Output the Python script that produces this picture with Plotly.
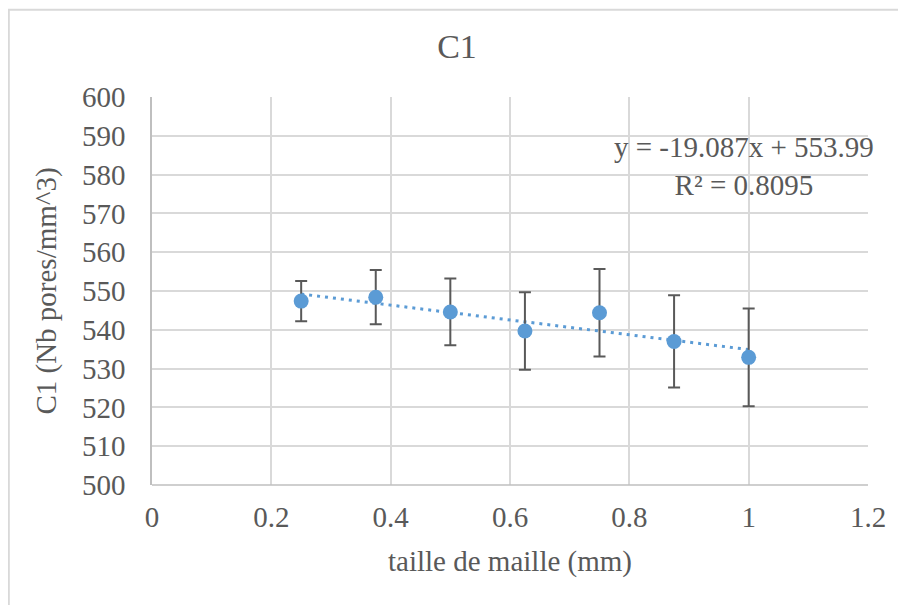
import plotly.graph_objects as go

# Data
mesh_size = [0.25, 0.375, 0.5, 0.625, 0.75, 0.875, 1.0]
c1_values = [547.4, 548.4, 544.6, 539.7, 544.4, 537.0, 532.9]
c1_error = [5.2, 7.0, 8.6, 10.0, 11.3, 11.9, 12.6]

trend_slope = -19.087
trend_intercept = 553.99
trend_x = [0.25, 1.0]
trend_y = [trend_slope * x + trend_intercept for x in trend_x]

x_ticks = [0, 0.2, 0.4, 0.6, 0.8, 1.0, 1.2]
x_tick_labels = ["0", "0.2", "0.4", "0.6", "0.8", "1", "1.2"]
y_ticks = list(range(500, 601, 10))

FONT = "Liberation Serif"
TXT = "#595959"
BLUE = "#5b9bd5"

fig = go.Figure()
fig.add_trace(go.Scatter(
    x=trend_x, y=trend_y, mode="lines",
    line=dict(color=BLUE, width=3, dash="3px,5px"),
    showlegend=False, hoverinfo="skip",
))
fig.add_trace(go.Scatter(
    x=mesh_size, y=c1_values, mode="markers",
    marker=dict(color=BLUE, size=15),
    error_y=dict(type="data", array=c1_error, visible=True,
                 color=TXT, thickness=2, width=6),
    showlegend=False,
))

fig.update_layout(
    width=898, height=597,
    margin=dict(l=144, r=38, t=89, b=120),
    paper_bgcolor="white", plot_bgcolor="white",
    font=dict(family=FONT, color=TXT, size=29),
    title=dict(text="C1", x=0.5, xanchor="center", y=0.937, yanchor="middle",
               font=dict(size=34, color=TXT, family=FONT)),
    xaxis=dict(range=[0, 1.2], tickvals=x_ticks, ticktext=x_tick_labels,
               showgrid=True, gridcolor="#d9d9d9", gridwidth=1.5,
               zeroline=False, showline=False,
               ticks="", ticklabelstandoff=12,
               tickfont=dict(size=29, color=TXT, family=FONT),
               title=dict(text="taille de maille (mm)", standoff=18,
                          font=dict(size=29, color=TXT, family=FONT))),
    yaxis=dict(range=[500, 600], tickvals=y_ticks,
               showgrid=True, gridcolor="#d9d9d9", gridwidth=1.5,
               zeroline=False, showline=True, linecolor="#bfbfbf", linewidth=1.5,
               ticks="", ticklabelstandoff=19,
               tickfont=dict(size=29, color=TXT, family=FONT),
               title=dict(text="C1 (Nb pores/mm^3)", standoff=17,
                          font=dict(size=29, color=TXT, family=FONT))),
    annotations=[dict(
        x=0.992, y=582.2, xref="x", yref="y", xanchor="center", yanchor="middle",
        text="y = -19.087x + 553.99<br>R² = 0.8095",
        showarrow=False, align="center",
        font=dict(size=29, color=TXT, family=FONT),
    )],
    shapes=[
        dict(type="rect", xref="paper", yref="paper",
             x0=-0.2, x1=1.2, y0=-0.5, y1=1.225,
             line=dict(color="#d9d9d9", width=2), layer="below"),
        dict(type="line", xref="paper", yref="paper", x0=0, x1=1, y0=0, y1=0,
             line=dict(color="#bfbfbf", width=1.5)),
    ],
)

fig.write_html("out.html")
